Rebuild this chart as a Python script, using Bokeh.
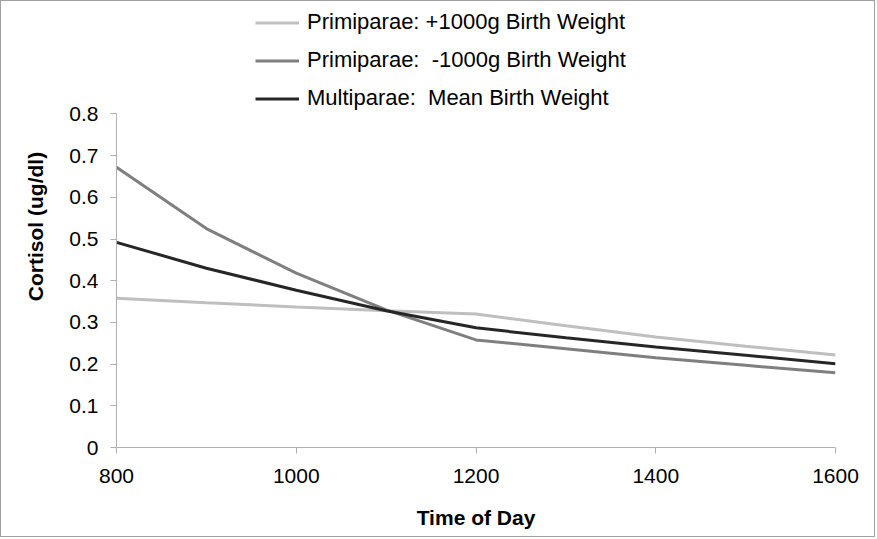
from bokeh.plotting import figure
from bokeh.models import Legend, LegendItem, Range1d, FixedTicker
from bokeh.embed import file_html
from bokeh.resources import INLINE

# Data
time_of_day = [800, 900, 1000, 1100, 1200, 1300, 1400, 1500, 1600]
primi_plus = [0.358, 0.347, 0.337, 0.328, 0.320, 0.292, 0.265, 0.243, 0.222]
primi_minus = [0.672, 0.525, 0.418, 0.330, 0.258, 0.237, 0.215, 0.197, 0.179]
multi_mean = [0.492, 0.430, 0.377, 0.328, 0.287, 0.263, 0.241, 0.221, 0.201]

series_names = ["Primiparae: +1000g Birth Weight",
                "Primiparae:  -1000g Birth Weight",
                "Multiparae:  Mean Birth Weight"]
series_colors = ["#bfbfbf", "#7f7f7f", "#262626"]

x_ticks = [800, 1000, 1200, 1400, 1600]
y_ticks = [0, 0.1, 0.2, 0.3, 0.4, 0.5, 0.6, 0.7, 0.8]
y_axis_max = 0.8

FONT = "Liberation Sans"

# frame extends above 0.8 to host the legend; the y axis is bounded to 0..0.8
p = figure(width=875, height=537, output_backend="svg", toolbar_location=None,
           x_range=Range1d(800, 1600), y_range=Range1d(0, 1.06),
           min_border_left=115, min_border_right=41,
           min_border_top=4, min_border_bottom=91)
p.styles = {"border": "1px solid #a0a0a0"}
p.outline_line_color = None
p.xgrid.visible = False
p.ygrid.visible = False
p.background_fill_color = "white"
p.border_fill_color = "white"

renderers = []
for ys, c in zip([primi_plus, primi_minus, multi_mean], series_colors):
    r = p.line(time_of_day, ys, line_color=c, line_width=3)
    renderers.append(r)

for ax in (p.xaxis[0], p.yaxis[0]):
    ax.axis_line_color = "#b0b0b0"
    ax.major_tick_line_color = "#b0b0b0"
    ax.minor_tick_line_color = None
    ax.major_tick_in = 0
    ax.major_tick_out = 6
    ax.major_label_text_font = FONT
    ax.major_label_text_font_size = "21px"
    ax.major_label_text_color = "black"
    ax.axis_label_text_font = FONT
    ax.axis_label_text_font_size = "21px"
    ax.axis_label_text_font_style = "bold"
    ax.axis_label_text_color = "black"

p.yaxis.bounds = (0, y_axis_max)
p.xaxis.ticker = FixedTicker(ticks=x_ticks)
p.yaxis.ticker = FixedTicker(ticks=y_ticks)
p.yaxis.major_label_overrides = {0: "0"}
p.xaxis.axis_label = "Time of Day"
p.yaxis.axis_label = "Cortisol (ug/dl)"
p.xaxis.major_label_standoff = 15
p.yaxis.major_label_standoff = 12
p.xaxis.axis_label_standoff = 20
p.yaxis.axis_label_standoff = 19

legend = Legend(items=[LegendItem(label=n, renderers=[r]) for n, r in zip(series_names, renderers)],
                location=(139, 336), orientation="vertical",
                glyph_width=44, glyph_height=25, label_height=25, spacing=12,
                label_standoff=8, padding=0, margin=0,
                border_line_color=None, background_fill_alpha=0,
                label_text_font=FONT, label_text_font_size="22px",
                label_text_color="black")
p.add_layout(legend, "center")

open("out.html", "w").write(file_html(p, INLINE))
